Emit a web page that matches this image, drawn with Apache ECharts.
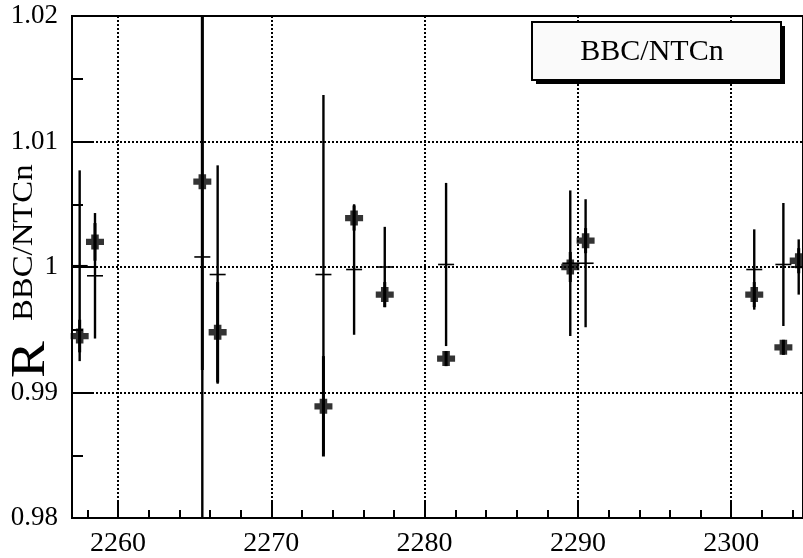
<!DOCTYPE html>
<html>
<head>
<meta charset="utf-8">
<title>BBC/NTCn ratio per run</title>
<script src="https://cdn.jsdelivr.net/npm/echarts@6/dist/echarts.min.js"></script>
<style>
  html, body { margin: 0; padding: 0; background: #fff; }
  #chart { width: 803px; height: 558px; }
</style>
</head>
<body>
<div id="chart"></div>
<script>
// Run numbers
const runs = [2257.5, 2258.5, 2265.5, 2266.5, 2273.4, 2275.4, 2277.4, 2281.4, 2289.5, 2290.5, 2301.5, 2303.4, 2304.4];
// Measured ratio R(BBC/NTCn) and its error
const ratio    = [0.9945, 1.0020, 1.0068, 0.9948, 0.9889, 1.0039, 0.9978, 0.9927, 1.0000, 1.0021, 0.9978, 0.9936, 1.0005];
const ratioErr = [0.0013, 0.0015, 0.0150, 0.0040, 0.0040, 0.0010, 0.0010, 0.0006, 0.0012, 0.0010, 0.0010, 0.0006, 0.0010];
// Reference ratio (thin crosses) and its error
const refRatio = [1.0001, 0.9993, 1.0008, 0.9994, 0.9994, 0.9998, 1.0000, 1.0002, 1.0003, 1.0003, 0.9998, 1.0002, 1.0000];
const refErr   = [0.0076, 0.0050, 0.0220, 0.0087, 0.0143, 0.0052, 0.0032, 0.0065, 0.0058, 0.0051, 0.0032, 0.0049, 0.0022];

// Axis ticks
const xMajor = [2260, 2270, 2280, 2290, 2300];
const xMinor = [2258, 2262, 2264, 2266, 2268, 2272, 2274, 2276, 2278, 2282, 2284, 2286, 2288, 2292, 2294, 2296, 2298, 2302, 2304];
const xMin = 2257, xMax = 2304.68;
const yMin = 0.98, yMax = 1.02, yStep = 0.01;

const serif = "'Liberation Serif', 'DejaVu Serif', serif";

const chart = echarts.init(document.getElementById('chart'), null, { renderer: 'canvas' });

const measData = runs.map((r, i) => [r, ratio[i] - ratioErr[i], ratio[i] + ratioErr[i], ratio[i]]);
const refData  = runs.map((r, i) => [r, refRatio[i] - refErr[i], refRatio[i] + refErr[i], refRatio[i]]);
const pointData = runs.map((r, i) => [r, ratio[i]]);

function renderMeasBar(params, api) {
  const x = api.value(0);
  const lo = api.coord([x, api.value(1)]);
  const hi = api.coord([x, api.value(2)]);
  return {
    type: 'line',
    shape: { x1: lo[0], y1: lo[1], x2: hi[0], y2: hi[1] },
    style: { stroke: '#000', lineWidth: 3 }
  };
}

function renderRefCross(params, api) {
  const x = api.value(0);
  const lo = api.coord([x, api.value(1)]);
  const hi = api.coord([x, api.value(2)]);
  const c  = api.coord([x, api.value(3)]);
  return {
    type: 'group',
    children: [
      { type: 'line', shape: { x1: lo[0], y1: lo[1], x2: hi[0], y2: hi[1] },
        style: { stroke: '#000', lineWidth: 2.4 } },
      { type: 'line', shape: { x1: c[0] - 8, y1: c[1], x2: c[0] + 8, y2: c[1] },
        style: { stroke: '#000', lineWidth: 1.6 } }
    ]
  };
}

const dotted = { color: '#000', width: 2, type: [2, 2] };

const option = {
  animation: false,
  backgroundColor: '#fff',
  grid: {
    left: 72, top: 16, right: -2, bottom: 40,
    show: true, borderColor: '#000', borderWidth: 2, backgroundColor: 'transparent'
  },
  xAxis: [
    {
      type: 'value', min: xMin, max: xMax, position: 'bottom',
      axisLine: { show: true, onZero: false, lineStyle: { color: '#000', width: 2 } },
      axisTick: { show: true, inside: true, length: 18, customValues: xMajor, lineStyle: { color: '#000', width: 2 } },
      axisLabel: {
        show: true, customValues: xMajor, color: '#000', fontFamily: serif, fontSize: 28, margin: 12,
        formatter: v => String(v)
      },
      splitLine: { show: true, lineStyle: dotted }
    },
    {
      type: 'value', min: xMin, max: xMax, position: 'bottom',
      axisLine: { show: false, onZero: false },
      axisTick: { show: true, inside: true, length: 8, customValues: xMinor, lineStyle: { color: '#000', width: 2 } },
      axisLabel: { show: false },
      splitLine: { show: false }
    }
  ],
  yAxis: {
    type: 'value', min: yMin, max: yMax, interval: yStep,
    axisLine: { show: true, onZero: false, lineStyle: { color: '#000', width: 2 } },
    axisTick: { show: true, inside: true, length: 22, lineStyle: { color: '#000', width: 2 } },
    minorTick: { show: true, splitNumber: 2, length: 11, lineStyle: { color: '#000', width: 2 } },
    axisLabel: { color: '#000', fontFamily: serif, fontSize: 27, margin: 14, padding: [4, 0, 0, 0] },
    splitLine: { show: true, lineStyle: dotted }
  },
  graphic: [
    // y-axis title: R with superscript BBC/NTCn, reading bottom to top
    {
      type: 'text', x: 31, y: 378, rotation: Math.PI / 2, scaleX: 1.15,
      style: { text: 'R', fontFamily: serif, fontSize: 48, fill: '#000', align: 'left', verticalAlign: 'middle' }
    },
    {
      type: 'text', x: 24, y: 321, rotation: Math.PI / 2, scaleX: 1.13,
      style: { text: 'BBC/NTCn', fontFamily: serif, fontSize: 29, fill: '#000', align: 'left', verticalAlign: 'middle' }
    },
    // legend box with drop shadow
    {
      type: 'rect', shape: { x: 536, y: 26, width: 249, height: 58 },
      style: { fill: '#000' }, z: 10
    },
    {
      type: 'rect', shape: { x: 532, y: 22, width: 249, height: 58 },
      style: { fill: '#fafafa', stroke: '#000', lineWidth: 2 }, z: 11
    },
    {
      type: 'text', x: 652, y: 52, z: 12,
      style: { text: 'BBC/NTCn', fontFamily: serif, fontSize: 30, fill: '#000', align: 'center', verticalAlign: 'middle' }
    }
  ],
  series: [
    {
      name: 'reference', type: 'custom', xAxisIndex: 0, clip: true,
      renderItem: renderRefCross, data: refData, z: 3
    },
    {
      name: 'BBC/NTCn error', type: 'custom', xAxisIndex: 0, clip: true,
      renderItem: renderMeasBar, data: measData, z: 4
    },
    {
      name: 'BBC/NTCn', type: 'scatter', xAxisIndex: 0, clip: true,
      symbol: 'path://M2.9,0 H7.1 V2.9 H10 V7.1 H7.1 V10 H2.9 V7.1 H0 V2.9 H2.9 Z',
      symbolSize: [18, 15],
      itemStyle: { color: '#000' },
      data: pointData, z: 5
    }
  ]
};

chart.setOption(option);
</script>
</body>
</html>
